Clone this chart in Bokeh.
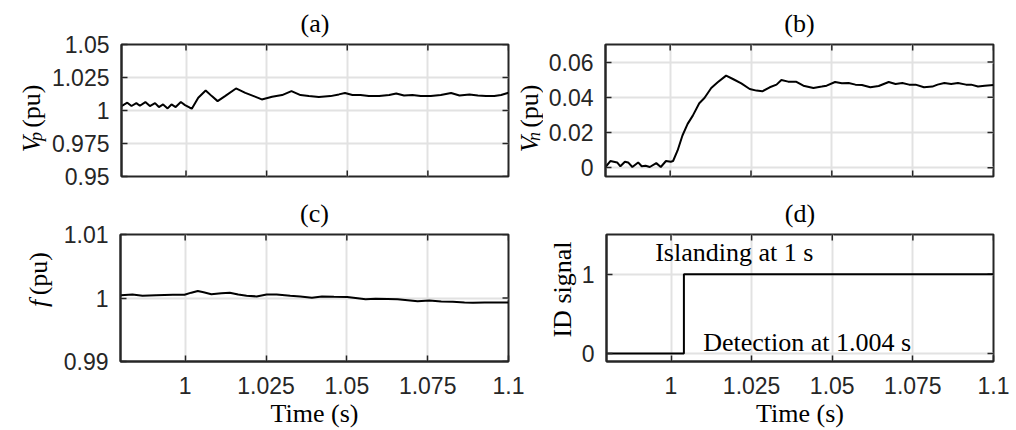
from bokeh.plotting import figure
from bokeh.layouts import column, row
from bokeh.models import Range1d, FixedTicker, Label, CustomJSTickFormatter
from bokeh.embed import file_html
from bokeh.resources import INLINE

# ---------------- data ----------------
t_vp = [0.9800, 0.9818, 0.9831, 0.9846, 0.9857, 0.9874, 0.9888, 0.9904, 0.9916, 0.9929,
        0.9943, 0.9955, 0.9968, 0.9984, 0.9997, 1.0012, 1.0018, 1.0038, 1.0061, 1.0080,
        1.0098, 1.0121, 1.0155, 1.0184, 1.0210, 1.0235, 1.0267, 1.0298, 1.0327, 1.0355,
        1.0381, 1.0412, 1.0448, 1.0474, 1.0493, 1.0516, 1.0541, 1.0567, 1.0599, 1.0630,
        1.0652, 1.0676, 1.0702, 1.0728, 1.0759, 1.0790, 1.0822, 1.0848, 1.0879, 1.0905,
        1.0930, 1.0956, 1.0977, 1.1000]
vp = [1.0034, 1.0059, 1.0034, 1.0056, 1.0036, 1.0064, 1.0034, 1.0056, 1.0026, 1.0046,
      1.0016, 1.0046, 1.0026, 1.0064, 1.0041, 1.0021, 1.0014, 1.0097, 1.0152, 1.0109,
      1.0071, 1.0109, 1.0167, 1.0134, 1.0109, 1.0084, 1.0104, 1.0117, 1.0147, 1.0117,
      1.0109, 1.0102, 1.0109, 1.0122, 1.0132, 1.0117, 1.0117, 1.0109, 1.0109, 1.0117,
      1.0129, 1.0114, 1.0117, 1.0109, 1.0109, 1.0117, 1.0132, 1.0114, 1.0122, 1.0114,
      1.0109, 1.0109, 1.0117, 1.0134]

t_vn = [0.9800, 0.9815, 0.9836, 0.9846, 0.9860, 0.9870, 0.9883, 0.9901, 0.9912, 0.9924,
        0.9937, 0.9957, 0.9971, 0.9987, 1.0002, 1.0009, 1.0023, 1.0038, 1.0054, 1.0070,
        1.0090, 1.0106, 1.0127, 1.0147, 1.0173, 1.0194, 1.0220, 1.0246, 1.0267, 1.0285,
        1.0308, 1.0329, 1.0344, 1.0365, 1.0389, 1.0412, 1.0443, 1.0469, 1.0484, 1.0510,
        1.0531, 1.0552, 1.0573, 1.0593, 1.0619, 1.0645, 1.0676, 1.0697, 1.0718, 1.0739,
        1.0759, 1.0785, 1.0811, 1.0827, 1.0848, 1.0869, 1.0890, 1.0915, 1.0931, 1.0952,
        1.0973, 1.1000]
vn = [0.0004, 0.0038, 0.0030, 0.0008, 0.0034, 0.0030, 0.0004, 0.0030, 0.0008, 0.0011,
      0.0004, 0.0026, 0.0004, 0.0038, 0.0034, 0.0038, 0.0098, 0.0183, 0.0249, 0.0296,
      0.0366, 0.0396, 0.0453, 0.0485, 0.0523, 0.0504, 0.0479, 0.0447, 0.0438, 0.0434,
      0.0457, 0.0472, 0.0498, 0.0489, 0.0489, 0.0466, 0.0453, 0.0461, 0.0466, 0.0487,
      0.0480, 0.0481, 0.0472, 0.0470, 0.0457, 0.0464, 0.0487, 0.0476, 0.0481, 0.0472,
      0.0472, 0.0457, 0.0461, 0.0472, 0.0481, 0.0476, 0.0481, 0.0472, 0.0472, 0.0461,
      0.0466, 0.0470]

t_f = [0.9801, 0.9837, 0.9868, 0.9910, 0.9962, 0.9998, 1.0019, 1.0039, 1.0057, 1.0081,
       1.0112, 1.0138, 1.0164, 1.0190, 1.0221, 1.0252, 1.0283, 1.0325, 1.0356, 1.0392,
       1.0423, 1.0460, 1.0501, 1.0527, 1.0558, 1.0589, 1.0626, 1.0657, 1.0688, 1.0719,
       1.0755, 1.0792, 1.0828, 1.0864, 1.0890, 1.0926, 1.0968, 1.1000]
f_pu = [1.00045, 1.00055, 1.00035, 1.00045, 1.00050, 1.00050, 1.00084, 1.00110, 1.00090, 1.00060,
        1.00074, 1.00084, 1.00055, 1.00035, 1.00025, 1.00055, 1.00055, 1.00035, 1.00025, 1.00005,
        1.00025, 1.00020, 1.00015, 1.00000, 0.99980, 0.99990, 0.99985, 0.99980, 0.99965, 0.99950,
        0.99960, 0.99945, 0.99940, 0.99930, 0.99925, 0.99930, 0.99930, 0.99930]

t_id = [0.98, 1.004, 1.004, 1.1]
id_sig = [0, 0, 1, 1]

x_lim = (0.98, 1.1)
x_ticks = [1, 1.025, 1.05, 1.075, 1.1]
x_tick_labels = ["1", "1.025", "1.05", "1.075", "1.1"]
vp_lim = (0.95, 1.05)
vp_ticks = [0.95, 0.975, 1, 1.025, 1.05]
vp_tick_labels = ["0.95", "0.975", "1", "1.025", "1.05"]
vn_lim = (-0.005, 0.07)
vn_ticks = [0, 0.02, 0.04, 0.06]
vn_tick_labels = ["0", "0.02", "0.04", "0.06"]
f_lim = (0.99, 1.01)
f_ticks = [0.99, 1, 1.01]
f_tick_labels = ["0.99", "1", "1.01"]
id_lim = (-0.1, 1.5)
id_ticks = [0, 1]
id_tick_labels = ["0", "1"]
panel_titles = ["(a)", "(b)", "(c)", "(d)"]
x_label = "Time (s)"
id_label = "ID signal"
annot_islanding = "Islanding at 1 s"
annot_detection = "Detection at 1.004 s"

# ---------------- style ----------------
AX = "#262626"
GRID = "#e2e2e2"
SANS = "Liberation Sans"
SERIF = "Liberation Serif"
TICK_FS = "23px"
SERIF_FS = "26px"
SUB_FS = "18px"
HALF_PI = 1.5707963267948966


def fmt(vals, labs):
    return CustomJSTickFormatter(args=dict(vals=vals, labs=labs), code="""
        for (let i = 0; i < vals.length; i++) { if (Math.abs(vals[i] - tick) < 1e-9) return labs[i]; }
        return String(tick);""")


def style_axis(ax, ticks, labels, standoff):
    ax.ticker = FixedTicker(ticks=ticks, minor_ticks=[])
    ax.formatter = fmt(ticks, labels)
    ax.axis_line_color = AX
    ax.axis_line_width = 2
    ax.major_tick_in = 6
    ax.major_tick_out = 0
    ax.minor_tick_in = 0
    ax.minor_tick_out = 0
    ax.major_tick_line_color = AX
    ax.major_tick_line_width = 1.5
    ax.major_label_text_font = SANS
    ax.major_label_text_font_size = TICK_FS
    ax.major_label_text_color = AX
    ax.major_label_standoff = standoff


def make_panel(width, height, lb, rb, tb, bb, ylim, yt, ytl, title, with_xaxis):
    p = figure(width=width, height=height, x_range=Range1d(*x_lim), y_range=Range1d(*ylim),
               output_backend="svg", toolbar_location=None,
               x_axis_location="below" if with_xaxis else None,
               min_border_left=lb, min_border_right=rb, min_border_top=tb, min_border_bottom=bb,
               background_fill_color="white", border_fill_color="white")
    p.title.text = title
    p.title.text_font = SERIF
    p.title.text_font_size = SERIF_FS
    p.title.text_font_style = "normal"
    p.title.text_color = "black"
    p.title.align = "center"
    p.title.standoff = 13
    p.outline_line_color = AX
    p.outline_line_width = 2
    p.outline_line_alpha = 1

    style_axis(p.left[0], yt, ytl, 12)
    if with_xaxis:
        below = p.below[0]
        style_axis(below, x_ticks, x_tick_labels, 15)
        below.axis_label = x_label
        below.axis_label_text_font = SERIF
        below.axis_label_text_font_size = SERIF_FS
        below.axis_label_text_font_style = "normal"
        below.axis_label_text_color = "black"
        below.axis_label_standoff = 2
    else:
        # inward ticks on the bottom edge (no labels)
        p.scatter(x_ticks, [ylim[0]] * len(x_ticks), marker="dash", size=12, angle=HALF_PI,
                  line_color=AX, line_width=1.5)
    # inward ticks on the top and right edges (box on)
    p.scatter(x_ticks, [ylim[1]] * len(x_ticks), marker="dash", size=12, angle=HALF_PI,
              line_color=AX, line_width=1.5)
    p.scatter([x_lim[1]] * len(yt), yt, marker="dash", size=12, line_color=AX, line_width=1.5)

    p.xgrid.ticker = FixedTicker(ticks=x_ticks, minor_ticks=[])
    p.ygrid.ticker = FixedTicker(ticks=yt, minor_ticks=[])
    for g in (p.xgrid, p.ygrid):
        g.grid_line_color = GRID
        g.grid_line_width = 2
    return p


def label_strip(width, height, parts):
    """Narrow blank figure holding a vertical axis title; coordinates are pixels."""
    s = figure(width=width, height=height, x_range=Range1d(0, width), y_range=Range1d(0, height),
               output_backend="svg", toolbar_location=None, x_axis_location=None,
               y_axis_location=None, min_border=0, outline_line_color=None,
               background_fill_color="white", border_fill_color="white")
    s.xgrid.visible = False
    s.ygrid.visible = False
    for txt, x, y, size, style, align in parts:
        s.add_layout(Label(x=x, y=y, text=txt, angle=HALF_PI, text_font=SERIF, text_font_size=size,
                           text_font_style=style, text_color="black", text_align=align,
                           text_baseline="alphabetic"))
    return s


pa = make_panel(465, 190, 72, 5, 43, 14, vp_lim, vp_ticks, vp_tick_labels, panel_titles[0], False)
pb = make_panel(473, 190, 62, 23, 43, 14, vn_lim, vn_ticks, vn_tick_labels, panel_titles[1], False)
pc = make_panel(468, 240, 60, 20, 37, 68, f_lim, f_ticks, f_tick_labels, panel_titles[2], True)
pd = make_panel(438, 240, 27, 23, 37, 68, id_lim, id_ticks, id_tick_labels, panel_titles[3], True)

pa.line(t_vp, vp, line_color="black", line_width=2)
pb.line(t_vn, vn, line_color="black", line_width=2)
pc.line(t_f, f_pu, line_color="black", line_width=2)
pd.line(t_id, id_sig, line_color="black", line_width=2)

la = label_strip(48, 190, [("V", 31, 35, SERIF_FS, "italic", "left"),
                           ("p", 35, 51, SUB_FS, "italic", "left"),
                           ("(pu)", 31, 70, SERIF_FS, "normal", "left")])
lb = label_strip(30, 190, [("V", 16, 35, SERIF_FS, "italic", "left"),
                           ("n", 20, 51, SUB_FS, "italic", "left"),
                           ("(pu)", 16, 70, SERIF_FS, "normal", "left")])
lc = label_strip(60, 240, [("f", 38, 103, SERIF_FS, "italic", "left"),
                           ("(pu)", 38, 125, SERIF_FS, "normal", "left")])
ld = label_strip(50, 240, [(id_label, 34, 136, SERIF_FS, "normal", "center")])

pd.add_layout(Label(x=0.9951, y=1.27, text=annot_islanding, text_font=SERIF, text_font_size=SERIF_FS,
                    text_color="black", text_align="left", text_baseline="middle"))
pd.add_layout(Label(x=1.0100, y=0.14, text=annot_detection, text_font=SERIF, text_font_size=SERIF_FS,
                    text_color="black", text_align="left", text_baseline="middle"))

layout = column(row(la, pa, lb, pb), row(lc, pc, ld, pd))
open("out.html", "w").write(file_html(layout, INLINE))
